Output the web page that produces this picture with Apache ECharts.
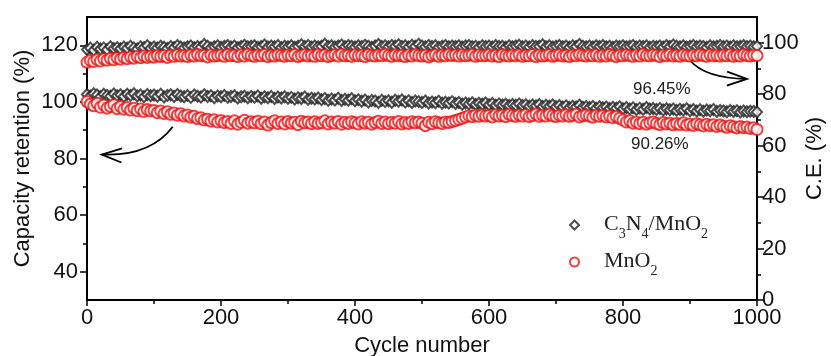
<!DOCTYPE html>
<html>
<head>
<meta charset="utf-8">
<script src="https://cdn.jsdelivr.net/npm/echarts@6/dist/echarts.min.js"></script>
<style>
  html, body { margin: 0; padding: 0; background: #fff; }
  #chart { width: 831px; height: 356px; }
</style>
</head>
<body>
<div id="chart"></div>
<script>
// cycle step between read points
var cycleStep = 5;

// capacity retention (%), left axis
var capC3N4 = [
  102.6, 102.1, 102.9, 102.4, 101.8, 102.7, 102.3, 102.0, 102.8, 102.2,
  102.5, 101.9, 102.7, 102.3, 102.9, 102.1, 102.4, 101.8, 102.6, 102.2,
  102.4, 102.0, 102.7, 101.7, 102.3, 102.5, 101.9, 102.6, 102.1, 101.8,
  102.3, 101.6, 102.4, 102.0, 101.7, 102.5, 101.9, 102.2, 101.5, 102.1,
  101.8, 102.3, 101.6, 101.9, 102.2, 101.4, 101.8, 102.0, 101.5, 101.9,
  101.6, 102.1, 101.3, 101.8, 101.5, 101.9, 101.2, 101.7, 101.4, 101.8,
  101.3, 101.6, 101.0, 101.5, 101.2, 101.7, 100.9, 101.3, 101.0, 101.4,
  100.8, 101.2, 100.6, 101.0, 100.7, 101.3, 100.5, 100.9, 100.6, 101.1,
  100.4, 100.8, 100.2, 100.7, 100.0, 100.5, 100.3, 99.8, 100.6, 100.1,
  100.4, 99.9, 100.6, 100.2, 100.7, 100.0, 100.4, 99.8, 100.3, 100.1,
  99.8, 100.3, 99.6, 100.0, 99.7, 100.2, 99.5, 99.9, 99.6, 100.1,
  99.4, 99.8, 99.2, 99.6, 99.3, 99.7, 99.1, 99.5, 99.2, 99.6,
  99.0, 99.4, 98.8, 99.3, 98.9, 99.2, 98.7, 99.1, 98.8, 99.3,
  98.7, 99.0, 98.5, 98.9, 98.6, 99.1, 98.4, 98.8, 98.5, 98.9,
  98.3, 98.7, 98.2, 98.6, 98.0, 98.5, 98.2, 98.8, 98.1, 98.4,
  98.0, 98.4, 97.8, 98.3, 97.9, 98.2, 97.7, 98.1, 97.8, 98.3,
  97.6, 98.0, 97.5, 97.9, 97.3, 97.8, 97.4, 98.0, 97.5, 97.7,
  97.3, 97.7, 97.1, 97.6, 97.2, 97.5, 97.0, 97.4, 97.1, 97.6,
  96.9, 97.3, 96.8, 97.2, 96.7, 97.1, 96.9, 97.3, 96.6, 97.0,
  96.8, 96.5, 97.0, 96.6, 96.9, 96.4, 96.8, 96.5, 96.7, 96.6,
  96.45
];
var capMnO2 = [
  100.1, 99.2, 98.6, 99.5, 98.1, 98.9, 97.8, 98.4, 99.0, 97.6,
  98.3, 97.4, 98.0, 97.1, 97.8, 96.9, 97.5, 96.6, 97.3, 96.8,
  97.0, 96.2, 96.8, 95.9, 96.5, 95.6, 96.1, 95.3, 95.8, 95.0,
  95.4, 94.6, 94.9, 94.1, 94.4, 93.6, 93.9, 93.2, 93.7, 92.9,
  93.4, 92.7, 93.1, 92.4, 93.3, 92.1, 92.8, 93.5, 92.5, 93.0,
  92.6, 93.2, 92.3, 92.9, 91.8, 92.7, 93.3, 92.4, 92.9, 92.2,
  93.1, 92.5, 92.8, 92.0, 93.2, 92.6, 92.9, 92.3, 93.0, 92.4,
  92.7, 93.3, 92.2, 92.9, 92.5, 93.1, 92.1, 92.8, 92.4, 93.0,
  92.6, 92.2, 93.0, 92.5, 92.8, 92.1, 92.7, 93.2, 92.4, 92.9,
  92.3, 92.8, 92.5, 93.1, 92.2, 92.7, 92.4, 93.0, 92.6, 92.9,
  92.5, 91.6, 92.8, 92.3, 93.0, 92.6, 92.4, 92.9, 92.7, 93.1,
  93.4, 93.8, 94.2, 94.7, 95.1, 94.8, 95.3, 94.9, 95.4, 95.0,
  95.2, 94.7, 95.5, 95.0, 95.3, 94.8, 95.6, 95.1, 94.9, 95.4,
  95.0, 95.5, 94.8, 95.2, 95.7, 94.9, 95.3, 95.0, 95.6, 95.1,
  94.8, 95.3, 95.0, 95.5, 94.9, 95.2, 95.6, 94.7, 95.1, 95.4,
  95.0, 94.6, 95.3, 94.9, 95.2, 94.7, 95.0, 94.4, 94.8, 94.2,
  93.6, 92.9, 93.3, 92.5, 92.9, 92.3, 92.8, 92.1, 92.6, 92.9,
  92.4, 92.0, 92.7, 92.2, 92.5, 91.9, 92.4, 92.0, 92.6, 91.8,
  92.2, 91.7, 92.3, 91.9, 91.5, 92.1, 91.6, 91.9, 91.3, 91.8,
  91.4, 91.0, 91.6, 91.2, 90.8, 91.3, 90.9, 91.1, 90.6, 90.9,
  90.26
];

// coulombic efficiency (%), right axis
var ceC3N4 = [
  97.4, 97.9, 97.1, 98.2, 97.6, 98.0, 97.3, 98.4, 97.8, 98.1,
  97.7, 98.3, 97.9, 98.6, 98.0, 97.6, 98.4, 98.1, 98.8, 97.9,
  98.3, 98.0, 98.6, 98.2, 97.8, 98.5, 98.1, 98.9, 98.3, 98.0,
  98.4, 98.7, 98.1, 98.5, 98.2, 99.3, 98.6, 98.0, 98.4, 98.8,
  98.2, 98.6, 98.9, 98.3, 98.7, 98.1, 98.5, 99.0, 98.4, 98.6,
  98.8, 98.2, 98.5, 99.1, 98.3, 98.7, 98.4, 98.9, 98.1, 98.6,
  98.4, 98.8, 98.2, 98.6, 99.2, 98.5, 98.9, 98.3, 98.7, 98.4,
  98.6, 99.4, 98.5, 98.8, 98.3, 98.7, 99.1, 98.4, 98.9, 98.6,
  98.3, 98.8, 98.5, 99.0, 98.6, 98.2, 98.7, 99.3, 98.5, 98.8,
  98.4, 98.9, 98.6, 99.2, 98.5, 98.8, 98.3, 99.0, 98.6, 99.4,
  98.7, 98.4, 98.9, 98.5, 98.8, 98.2, 98.6, 98.9, 98.4, 98.7,
  98.5, 98.8, 98.3, 98.7, 98.9, 98.4, 98.6, 98.2, 98.8, 98.5,
  98.7, 98.3, 98.9, 98.5, 98.6, 98.2, 98.8, 98.4, 98.7, 99.0,
  98.4, 98.7, 98.3, 98.9, 98.5, 98.6, 99.2, 98.4, 98.8, 98.3,
  98.6, 98.9, 98.4, 98.7, 98.2, 98.8, 98.5, 99.3, 98.6, 98.4,
  98.7, 98.3, 98.8, 98.5, 98.9, 98.4, 98.6, 98.2, 98.7, 98.5,
  98.8, 98.4, 98.6, 98.9, 98.3, 98.7, 98.5, 98.8, 98.2, 98.6,
  98.4, 98.7, 98.3, 98.9, 98.5, 99.1, 98.6, 98.4, 98.8, 98.3,
  98.6, 98.9, 98.4, 98.7, 98.5, 98.2, 98.8, 98.4, 98.6, 98.9,
  98.5, 98.7, 98.3, 98.8, 98.4, 98.6, 98.9, 98.5, 98.7, 98.4,
  98.6
];
var ceMnO2 = [
  92.4, 93.1, 92.7, 93.5, 92.9, 93.7, 93.2, 93.9, 93.4, 94.1,
  93.6, 94.3, 93.8, 94.5, 94.0, 94.6, 94.2, 94.8, 94.3, 94.7,
  94.4, 95.0, 94.6, 94.9, 94.3, 95.1, 94.7, 95.3, 94.8, 95.0,
  94.6, 95.2, 94.8, 95.4, 94.9, 95.1, 94.5, 95.3, 94.8, 95.0,
  95.2, 94.7, 95.4, 94.9, 95.1, 94.6, 95.3, 94.8, 95.5, 95.0,
  94.7, 95.2, 94.9, 95.4, 94.6, 95.1, 94.8, 95.3, 95.0, 94.7,
  95.2, 94.9, 95.4, 94.6, 95.0, 95.3, 94.8, 95.1, 94.7, 95.4,
  94.9, 95.2, 94.6, 95.0, 95.3, 94.8, 95.5, 94.9, 95.1, 94.7,
  95.3, 94.9, 95.1, 94.6, 95.4, 95.0, 94.8, 95.2, 94.9, 95.5,
  95.0, 94.7, 95.3, 94.9, 95.1, 94.6, 95.2, 94.8, 95.4, 95.0,
  94.8, 95.1, 94.5, 95.0, 95.3, 94.7, 95.2, 94.9, 95.4, 95.0,
  95.2, 94.8, 95.3, 94.9, 95.1, 95.4, 94.7, 95.2, 94.9, 95.0,
  95.3, 94.8, 95.1, 94.6, 95.4, 95.0, 94.8, 95.2, 94.9, 95.3,
  94.7, 95.1, 94.9, 95.4, 94.6, 95.2, 94.8, 95.0, 95.3, 94.7,
  95.0, 95.3, 94.8, 95.1, 94.6, 95.2, 94.9, 95.4, 95.0, 94.8,
  95.2, 94.9, 95.3, 94.7, 95.1, 94.8, 95.4, 95.0, 94.6, 95.2,
  94.9, 95.3, 95.0, 94.7, 95.2, 94.8, 95.5, 95.0, 94.9, 95.3,
  95.0, 94.6, 95.2, 94.9, 95.4, 94.8, 95.1, 94.7, 95.3, 95.0,
  94.8, 95.2, 94.9, 95.4, 95.0, 94.7, 95.3, 94.9, 95.1, 94.8,
  95.2, 94.9, 95.3, 94.7, 95.1, 94.8, 95.4, 95.0, 94.8, 95.2,
  95.0
];

var leftTicks = [40, 60, 80, 100, 120];
var leftMinor = [50, 70, 90, 110];
var rightTicks = [0, 20, 40, 60, 80, 100];
var rightMinor = [10, 30, 50, 70, 90];

// annotations in data coords [cycle, capacity]
var notes = [
  { text: '96.45%', at: [858, 104.6] },
  { text: '90.26%', at: [855, 84.9] }
];
// arrows: start, control, tip (cycle, capacity)
var arrows = [
  [[128, 91.2], [94, 80.6], [22, 81.4]],
  [[900, 114.7], [922, 108.4], [985, 108.1]]
];

function pairs(arr) {
  var out = [];
  for (var i = 0; i < arr.length; i++) {
    out.push([i * cycleStep, arr[i]]);
  }
  return out;
}

var font = '"Liberation Sans", Arial, sans-serif';
var serif = '"Liberation Serif", "Times New Roman", serif';
var lineStyle = { color: '#000', width: 2 };
var tickStyle = { color: '#000', width: 1.5 };
var labelStyle = { fontFamily: font, fontSize: 22, color: '#111' };

var chart = echarts.init(document.getElementById('chart'));

var option = {
  animation: false,
  backgroundColor: '#fff',
  grid: {
    left: 87, right: 74, top: 17, bottom: 56,
    outerBoundsMode: 'none',
    containLabel: false,
    show: true, borderColor: '#000', borderWidth: 2
  },
  legend: {
    orient: 'vertical',
    left: 564,
    top: 208,
    itemGap: 9,
    itemWidth: 9,
    itemHeight: 9,
    data: ['C3N4/MnO2', 'MnO2'],
    formatter: function (name) {
      if (name == 'C3N4/MnO2') return '{m|C}{s|3}{m|N}{s|4}{m|/MnO}{s|2}';
      return '{m|MnO}{s|2}';
    },
    textStyle: {
      fontFamily: serif,
      fontSize: 22,
      color: '#222',
      padding: [0, 0, 0, 20],
      rich: {
        m: { fontFamily: serif, fontSize: 22, color: '#222', lineHeight: 24, verticalAlign: 'top' },
        s: { fontFamily: serif, fontSize: 14, color: '#222', lineHeight: 14, padding: [14, 0, 0, 0], verticalAlign: 'top' }
      }
    }
  },
  xAxis: {
    type: 'value',
    min: 0, max: 1000, interval: 200,
    name: 'Cycle number',
    nameLocation: 'middle',
    nameGap: 35,
    nameMoveOverlap: false,
    nameTextStyle: labelStyle,
    axisLine: { onZero: false, lineStyle: lineStyle },
    axisTick: { length: 6, lineStyle: tickStyle },
    minorTick: { show: true, splitNumber: 2, length: 4, lineStyle: tickStyle },
    axisLabel: {
      fontFamily: font, fontSize: 22, color: '#111', margin: 7,
      formatter: function (v) { return String(v); }
    },
    splitLine: { show: false }
  },
  yAxis: [{
    type: 'value', position: 'left',
    min: 30, max: 130,
    name: 'Capacity retention (%)',
    nameLocation: 'middle',
    nameGap: 53,
    nameMoveOverlap: false,
    nameRotate: 90,
    nameTextStyle: labelStyle,
    axisLine: { show: true, lineStyle: lineStyle },
    axisTick: { show: true, length: 7, customValues: leftTicks, lineStyle: tickStyle },
    axisLabel: { customValues: leftTicks, fontFamily: font, fontSize: 22, color: '#111', margin: 9 },
    splitLine: { show: false }
  }, {
    type: 'value', position: 'right',
    min: 0, max: 110,
    name: 'C.E. (%)',
    nameLocation: 'middle',
    nameGap: 47,
    nameMoveOverlap: false,
    nameRotate: 90,
    nameTextStyle: labelStyle,
    axisLine: { show: true, lineStyle: lineStyle },
    axisTick: { show: true, length: 7, customValues: rightTicks, lineStyle: tickStyle },
    axisLabel: { customValues: rightTicks, fontFamily: font, fontSize: 22, color: '#111', margin: 5 },
    splitLine: { show: false }
  }, {
    type: 'value', position: 'left',
    min: 30, max: 130,
    axisLine: { show: false },
    axisTick: { show: true, length: 4, customValues: leftMinor, lineStyle: tickStyle },
    axisLabel: { show: false },
    splitLine: { show: false }
  }, {
    type: 'value', position: 'right',
    min: 0, max: 110,
    axisLine: { show: false },
    axisTick: { show: true, length: 4, customValues: rightMinor, lineStyle: tickStyle },
    axisLabel: { show: false },
    splitLine: { show: false }
  }],
  series: [{
    name: 'C3N4/MnO2',
    type: 'scatter',
    yAxisIndex: 0,
    symbol: 'emptyDiamond',
    symbolSize: [10, 11],
    itemStyle: { color: '#222', borderColor: '#222', borderWidth: 1 },
    data: pairs(capC3N4)
  }, {
    name: 'C3N4/MnO2',
    type: 'scatter',
    yAxisIndex: 1,
    symbol: 'emptyDiamond',
    symbolSize: [10, 11],
    itemStyle: { color: '#222', borderColor: '#222', borderWidth: 1 },
    data: pairs(ceC3N4)
  }, {
    name: 'MnO2',
    type: 'scatter',
    yAxisIndex: 0,
    symbol: 'emptyCircle',
    symbolSize: 11,
    itemStyle: { color: '#f01010', borderColor: '#f01010', borderWidth: 1 },
    data: pairs(capMnO2)
  }, {
    name: 'MnO2',
    type: 'scatter',
    yAxisIndex: 1,
    symbol: 'emptyCircle',
    symbolSize: 11,
    itemStyle: { color: '#f01010', borderColor: '#f01010', borderWidth: 1 },
    data: pairs(ceMnO2)
  }]
};

chart.setOption(option);

// labels and arrows placed through the axes
function toPx(p) {
  return chart.convertToPixel({ xAxisIndex: 0, yAxisIndex: 0 }, p);
}

var graphics = [];
notes.forEach(function (n) {
  var p = toPx(n.at);
  graphics.push({
    type: 'text', x: p[0], y: p[1],
    style: {
      text: n.text, fontFamily: font, fontSize: 17, fill: '#222',
      align: 'center', verticalAlign: 'middle'
    }
  });
});
arrows.forEach(function (a) {
  var s = toPx(a[0]), c = toPx(a[1]), t = toPx(a[2]);
  graphics.push({
    type: 'bezierCurve',
    shape: { x1: s[0], y1: s[1], cpx1: c[0], cpy1: c[1], x2: t[0], y2: t[1] },
    style: { stroke: '#000', lineWidth: 1.8, fill: 'none' }
  });
  var dx = t[0] - c[0], dy = t[1] - c[1];
  var len = Math.sqrt(dx * dx + dy * dy);
  dx /= len; dy /= len;
  var L = 20, W = 7;
  graphics.push({
    type: 'polyline',
    shape: { points: [
      [t[0] - dx * L - dy * W, t[1] - dy * L + dx * W],
      [t[0], t[1]],
      [t[0] - dx * L + dy * W, t[1] - dy * L - dx * W]
    ] },
    style: { stroke: '#000', lineWidth: 1.8, fill: 'none' }
  });
});
chart.setOption({ graphic: graphics });
</script>
</body>
</html>
